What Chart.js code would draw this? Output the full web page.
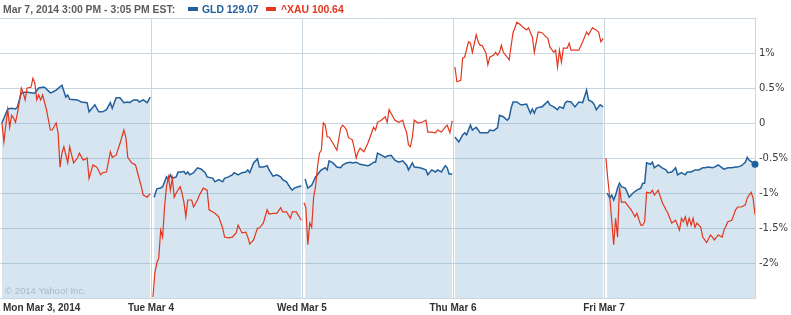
<!DOCTYPE html>
<html>
<head>
<meta charset="utf-8">
<script src="https://cdn.jsdelivr.net/npm/chart.js@4.4.1/dist/chart.umd.min.js"></script>
<style>
    html, body { margin: 0; padding: 0; background: #fff; }
    canvas { display: block; }
</style>
</head>
<body>
<canvas id="myChart" width="791" height="315"></canvas>
<script>
// [minutes after the 9:30 open, % change vs previous close]
const gldMon = [[5,0.00],[20,0.20],[30,0.21],[40,0.20],[45,0.23],[55,0.43],[65,0.44],[70,0.44],[85,0.43],[90,0.43],[100,0.50],[110,0.51],[115,0.51],[130,0.43],[135,0.44],[145,0.47],[160,0.54],[170,0.37],[175,0.40],[180,0.34],[200,0.33],[210,0.30],[225,0.29],[230,0.16],[245,0.26],[255,0.16],[265,0.16],[275,0.19],[285,0.29],[290,0.21],[300,0.36],[310,0.36],[320,0.29],[330,0.30],[335,0.29],[345,0.33],[355,0.33],[360,0.30],[370,0.33],[380,0.29],[388,0.37]];
const gldTue = [[8,-1.06],[15,-0.94],[25,-0.93],[30,-0.91],[40,-0.77],[45,-0.81],[50,-0.74],[55,-0.79],[65,-0.77],[70,-0.70],[80,-0.70],[85,-0.69],[90,-0.73],[95,-0.70],[100,-0.74],[110,-0.71],[120,-0.64],[130,-0.66],[140,-0.71],[145,-0.77],[160,-0.79],[165,-0.84],[175,-0.81],[185,-0.84],[190,-0.79],[200,-0.77],[210,-0.74],[215,-0.71],[225,-0.74],[235,-0.71],[245,-0.70],[250,-0.67],[255,-0.71],[265,-0.57],[275,-0.51],[280,-0.63],[290,-0.63],[300,-0.61],[305,-0.67],[315,-0.76],[325,-0.74],[335,-0.77],[340,-0.81],[350,-0.84],[360,-0.93],[365,-0.96],[370,-0.93],[380,-0.91],[388,-0.90]];
const gldWed = [[8,-0.80],[15,-0.93],[20,-0.91],[25,-0.89],[35,-0.77],[40,-0.74],[45,-0.70],[50,-0.67],[60,-0.64],[65,-0.67],[70,-0.54],[80,-0.57],[90,-0.63],[100,-0.64],[105,-0.60],[115,-0.57],[125,-0.56],[130,-0.57],[140,-0.56],[150,-0.59],[160,-0.60],[170,-0.61],[175,-0.60],[185,-0.56],[190,-0.56],[195,-0.43],[205,-0.46],[215,-0.49],[220,-0.47],[230,-0.46],[240,-0.53],[250,-0.56],[260,-0.54],[270,-0.60],[275,-0.67],[285,-0.57],[290,-0.63],[305,-0.64],[320,-0.67],[325,-0.74],[335,-0.67],[345,-0.70],[350,-0.67],[360,-0.70],[370,-0.61],[375,-0.64],[380,-0.73],[388,-0.73]];
const gldThu = [[5,-0.20],[15,-0.27],[25,-0.17],[30,-0.14],[35,-0.17],[45,-0.03],[50,-0.10],[60,-0.06],[70,-0.14],[80,-0.14],[90,-0.14],[95,-0.10],[105,-0.11],[115,-0.07],[120,0.11],[130,0.09],[140,0.04],[145,0.07],[150,0.21],[155,0.30],[165,0.30],[175,0.26],[180,0.26],[190,0.27],[200,0.14],[205,0.20],[210,0.14],[215,0.21],[225,0.23],[230,0.23],[245,0.31],[250,0.26],[260,0.23],[270,0.19],[275,0.23],[285,0.21],[290,0.29],[295,0.31],[305,0.30],[315,0.23],[325,0.30],[335,0.29],[345,0.47],[350,0.33],[360,0.30],[365,0.26],[370,0.19],[380,0.26],[388,0.23]];
const gldFri = [[8,-1.00],[15,-1.07],[20,-1.03],[25,-1.10],[30,-1.03],[35,-0.93],[40,-0.86],[45,-0.91],[55,-0.93],[60,-0.99],[65,-1.06],[75,-1.00],[85,-0.96],[95,-0.93],[100,-0.86],[105,-0.86],[110,-0.57],[120,-0.59],[125,-0.56],[130,-0.64],[140,-0.60],[150,-0.64],[160,-0.67],[165,-0.71],[175,-0.70],[185,-0.64],[190,-0.74],[200,-0.71],[210,-0.74],[215,-0.70],[225,-0.70],[235,-0.67],[245,-0.67],[255,-0.64],[260,-0.64],[270,-0.63],[280,-0.64],[285,-0.63],[295,-0.60],[305,-0.64],[310,-0.66],[320,-0.64],[330,-0.64],[340,-0.63],[345,-0.63],[355,-0.61],[365,-0.56],[370,-0.49],[375,-0.53],[385,-0.57],[390,-0.59]];

const xauMon = [[5,0.00],[10,-0.27],[15,-0.03],[20,0.19],[25,-0.06],[30,0.11],[35,0.07],[40,0.01],[45,0.14],[50,0.30],[55,0.50],[60,0.43],[65,0.33],[70,0.50],[80,0.51],[85,0.64],[90,0.57],[95,0.33],[100,0.40],[105,0.33],[110,0.40],[120,0.19],[130,-0.10],[135,-0.10],[145,0.00],[150,-0.14],[155,-0.63],[160,-0.43],[165,-0.34],[175,-0.57],[180,-0.34],[190,-0.57],[200,-0.50],[205,-0.43],[215,-0.53],[225,-0.50],[230,-0.79],[240,-0.60],[250,-0.63],[260,-0.74],[265,-0.71],[275,-0.70],[285,-0.41],[290,-0.49],[300,-0.46],[310,-0.29],[320,-0.10],[325,-0.20],[330,-0.49],[340,-0.57],[350,-0.60],[355,-0.70],[365,-0.91],[370,-1.03],[380,-1.06],[388,-1.01]];
const xauTue = [[5,-2.49],[10,-2.14],[15,-2.00],[20,-1.93],[25,-1.53],[30,-1.63],[35,-1.20],[40,-0.91],[45,-0.77],[50,-0.96],[55,-0.79],[60,-1.06],[65,-1.00],[75,-0.91],[80,-1.00],[85,-1.13],[90,-1.34],[95,-1.10],[105,-1.10],[110,-1.20],[120,-1.10],[125,-1.03],[135,-0.93],[145,-0.96],[150,-1.24],[160,-1.27],[165,-1.29],[175,-1.34],[185,-1.50],[190,-1.63],[200,-1.64],[210,-1.63],[215,-1.60],[220,-1.57],[225,-1.46],[235,-1.57],[245,-1.56],[250,-1.63],[255,-1.73],[265,-1.67],[275,-1.50],[280,-1.50],[290,-1.43],[300,-1.24],[305,-1.30],[315,-1.29],[325,-1.29],[335,-1.21],[340,-1.27],[350,-1.27],[360,-1.36],[365,-1.27],[375,-1.27],[388,-1.39]];
const xauWed = [[5,-1.14],[10,-1.21],[15,-1.74],[20,-1.43],[25,-1.49],[30,-1.06],[35,-0.91],[40,-0.63],[45,-0.43],[50,-0.39],[55,0.00],[60,-0.03],[65,-0.20],[70,-0.20],[80,-0.29],[90,-0.39],[100,-0.07],[105,-0.03],[110,-0.06],[115,-0.10],[120,-0.21],[130,-0.24],[135,-0.36],[140,-0.50],[145,-0.41],[150,-0.36],[160,-0.41],[170,-0.29],[180,-0.14],[185,-0.06],[190,-0.10],[195,0.01],[205,0.04],[215,0.09],[220,0.01],[225,0.19],[230,0.14],[240,0.04],[250,0.01],[260,0.04],[265,-0.06],[270,-0.13],[275,-0.31],[280,-0.34],[285,-0.20],[290,0.04],[300,0.00],[310,0.01],[320,0.04],[325,-0.13],[335,-0.13],[345,-0.14],[350,-0.10],[360,-0.13],[370,-0.06],[375,-0.03],[382,-0.14],[388,0.03]];
const xauThu = [[5,0.80],[10,0.59],[20,0.61],[25,0.93],[30,0.94],[40,1.16],[45,1.14],[50,1.01],[60,1.26],[65,1.16],[70,1.11],[75,1.11],[85,1.00],[90,0.83],[95,0.94],[105,0.97],[110,1.01],[115,0.97],[120,1.01],[125,1.11],[130,1.01],[140,0.94],[145,0.90],[155,1.29],[160,1.36],[165,1.44],[175,1.40],[180,1.37],[190,1.33],[195,1.36],[205,1.23],[210,1.01],[220,1.30],[230,1.29],[240,1.23],[245,1.21],[250,1.09],[260,1.01],[265,1.04],[270,0.80],[275,1.04],[280,0.87],[285,1.07],[295,1.07],[300,1.14],[305,1.04],[315,1.04],[325,1.04],[335,1.16],[340,1.23],[345,1.30],[350,1.26],[360,1.36],[370,1.33],[376,1.30],[382,1.16],[388,1.21]];
const xauFri = [[5,-0.50],[10,-0.81],[15,-1.07],[20,-1.39],[25,-1.74],[30,-1.36],[35,-1.63],[40,-0.91],[45,-1.13],[55,-1.13],[60,-1.17],[70,-1.24],[80,-1.34],[85,-1.29],[95,-1.46],[100,-1.46],[105,-1.41],[110,-0.99],[120,-1.00],[125,-0.96],[130,-1.03],[140,-0.96],[150,-1.13],[160,-1.24],[165,-1.29],[175,-1.43],[185,-1.39],[190,-1.46],[195,-1.53],[200,-1.36],[205,-1.41],[210,-1.34],[215,-1.46],[220,-1.36],[225,-1.46],[230,-1.36],[235,-1.49],[240,-1.43],[250,-1.49],[255,-1.63],[265,-1.71],[275,-1.60],[280,-1.63],[285,-1.67],[295,-1.60],[305,-1.63],[310,-1.53],[320,-1.41],[330,-1.39],[340,-1.24],[345,-1.20],[355,-1.20],[365,-1.17],[370,-1.07],[380,-0.99],[385,-1.07],[390,-1.31]];

const dayLabels = ['Mon Mar 3, 2014', 'Tue Mar 4', 'Wed Mar 5', 'Thu Mar 6', 'Fri Mar 7'];
const yTickValues = [1, 0.5, 0, -0.5, -1, -1.5, -2];
const yTickLabels = ['1%', '0.5%', '0', '-0.5%', '-1%', '-1.5%', '-2%'];
const headerText = 'Mar 7, 2014 3:00 PM - 3:05 PM EST:';
const gldLabel = 'GLD 129.07';
const xauLabel = '^XAU 100.64';

const DAY_MIN = 390; // one trading session
const gldColor = '#21609d';
const xauColor = '#e3361d';
const gridColor = '#c9d6e0';

// flatten the day arrays onto one time axis, with a null between sessions so lines break
function buildSeries(days) {
    const out = [];
    days.forEach(function(day, d) {
        day.forEach(function(p) {
            out.push({ x: d * DAY_MIN + p[0], y: p[1] });
        });
        if (d < days.length - 1) out.push({ x: (d + 1) * DAY_MIN, y: null });
    });
    return out;
}

const gldData = buildSeries([gldMon, gldTue, gldWed, gldThu, gldFri]);
const xauData = buildSeries([xauMon, xauTue, xauWed, xauThu, xauFri]);

// header, day labels, watermark
const decorations = {
    id: 'decorations',
    afterDatasetsDraw(chart) {
        const ctx = chart.ctx;
        ctx.save();
        ctx.font = '9.5px "Liberation Sans", Arial, sans-serif';
        ctx.fillStyle = '#a9b9c6';
        ctx.textAlign = 'left';
        ctx.textBaseline = 'alphabetic';
        ctx.fillText('\u00a9 2014 Yahoo! Inc.', 5, 294);
        ctx.restore();
    },
    afterDraw(chart) {
        const ctx = chart.ctx;
        const xs = chart.scales.x;
        ctx.save();
        ctx.textBaseline = 'alphabetic';
        ctx.textAlign = 'left';
        ctx.font = 'bold 10.4px "Liberation Sans", Arial, sans-serif';
        ctx.fillStyle = '#5c5c5c';
        ctx.fillText(headerText, 3, 13);
        ctx.fillStyle = gldColor;
        ctx.fillRect(188, 7, 10, 4);
        ctx.fillText(gldLabel, 202, 13);
        ctx.fillStyle = xauColor;
        ctx.fillRect(266, 7, 10, 4);
        ctx.fillText(xauLabel, 281, 13);

        ctx.font = 'bold 10px "Liberation Sans", Arial, sans-serif';
        ctx.fillStyle = '#333';
        dayLabels.forEach(function(label, i) {
            const px = xs.getPixelForValue(i * DAY_MIN);
            if (i === 0) {
                ctx.textAlign = 'left';
                ctx.fillText(label, px + 3, 311);
            } else {
                ctx.textAlign = 'center';
                ctx.fillText(label, px, 311);
            }
        });
        ctx.restore();
    }
};

const lastGld = gldData.length - 1;

new Chart(document.getElementById('myChart'), {
    type: 'line',
    data: {
        datasets: [{
            label: gldLabel,
            data: gldData,
            borderColor: gldColor,
            borderWidth: 1.5,
            backgroundColor: 'rgba(105, 158, 200, 0.27)',
            fill: 'start',
            tension: 0,
            spanGaps: false,
            pointRadius: function(c) { return c.dataIndex === lastGld ? 3.5 : 0; },
            pointBackgroundColor: gldColor,
            pointBorderWidth: 0,
            order: 1,
            clip: 4
        }, {
            label: xauLabel,
            data: xauData,
            borderColor: xauColor,
            borderWidth: 1.2,
            fill: false,
            tension: 0,
            spanGaps: false,
            pointRadius: 0,
            order: 0
        }]
    },
    options: {
        responsive: false,
        animation: false,
        events: [],
        layout: { autoPadding: false, padding: { top: 18, left: 0, right: 0, bottom: 0 } },
        plugins: {
            legend: { display: false },
            tooltip: { enabled: false },
            title: { display: false }
        },
        scales: {
            x: {
                type: 'linear',
                min: 0,
                max: 5 * DAY_MIN,
                ticks: { display: false, stepSize: DAY_MIN },
                grid: {
                    drawTicks: false,
                    color: function(c) { return c.tick && c.tick.value === 0 ? 'rgba(0,0,0,0)' : gridColor; }
                },
                border: { color: gridColor },
                afterFit(scale) { scale.height = 17; }
            },
            y: {
                position: 'right',
                min: -2.5,
                max: 1.5,
                ticks: {
                    stepSize: 0.5,
                    padding: 4,
                    color: '#3c3c3c',
                    font: { family: '"DejaVu Sans", Verdana, sans-serif', size: 10 },
                    callback: function(v) {
                        const i = yTickValues.findIndex(function(t) { return Math.abs(t - v) < 1e-9; });
                        return i < 0 ? '' : yTickLabels[i];
                    }
                },
                grid: { drawTicks: false, color: gridColor },
                border: { color: gridColor },
                afterFit(scale) { scale.width = 36; }
            }
        }
    },
    plugins: [decorations]
});
</script>
</body>
</html>
